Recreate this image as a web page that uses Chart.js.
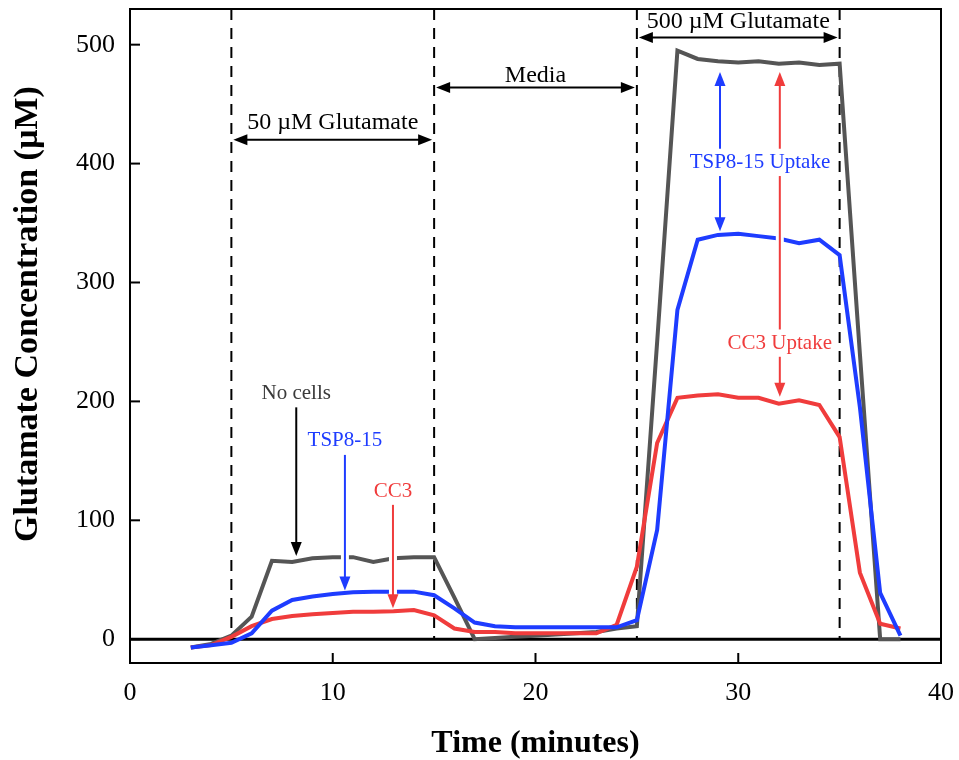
<!DOCTYPE html>
<html>
<head>
<meta charset="utf-8">
<script src="https://cdn.jsdelivr.net/npm/chart.js@4.4.1/dist/chart.umd.min.js"></script>
<style>
  html, body { margin: 0; padding: 0; background: #fff; }
  #wrap { width: 959px; height: 760px; }
</style>
</head>
<body>
<div id="wrap"><canvas id="chartGlu" width="959" height="760"></canvas></div>
<script>
// data (minutes, uM)
const times = [3, 4, 5, 6, 7, 8, 9, 10, 11, 12, 13, 14, 15, 16, 17, 18, 19, 20,
  21, 22, 23, 24, 25, 26, 27, 28, 29, 30, 31, 32, 33, 34, 35, 36, 37, 38];
const noCells = [-7, -4, 3, 19, 66, 65, 68, 69, 69, 65, 68, 69, 69, 35, 0, 1, 2, 3,
  4, 5, 6, 9, 11, 250, 495, 488, 486, 485, 486, 484, 485, 483, 484, 240, 0, 0];
const tsp815 = [-7, -5, -3, 5, 24, 33, 36, 38, 39.5, 40, 40, 40, 37, 26, 14, 11, 10, 10,
  10, 10, 10, 10, 16, 92, 277, 336, 340, 341, 339, 337, 333, 336, 323, 195, 39, 3];
const cc3 = [-7, -5, 2, 11, 17, 19.5, 21, 22, 23, 23, 23.5, 24.5, 20, 9, 6, 6, 5, 5,
  5, 5, 5, 12, 61, 165, 203, 205, 206, 203, 203, 198, 201, 197, 170, 56, 13, 9];

const xTicks = [0, 10, 20, 30, 40];
const yTicks = [0, 100, 200, 300, 400, 500];
const phaseEdges = [5, 15, 25, 35];

const GREY = "#555555";
const BLUE = "#1e3cff";
const RED = "#f03c3c";
const SERIF = '"Liberation Serif", "Times New Roman", serif';

// annotation layout (data units)
const phases = [
  { text: "50 \u00b5M Glutamate", x0: 5, x1: 15, textY: 434, arrowY: 420 },
  { text: "Media", x0: 15, x1: 25, textY: 474, arrowY: 464 },
  { text: "500 \u00b5M Glutamate", x0: 25, x1: 35, textY: 519, arrowY: 506 }
];
const callouts = [
  { text: "No cells", color: "#3a3a3a", arrow: "#000", x: 8.2, textY: 207, from: 195, to: 70 },
  { text: "TSP8-15", color: BLUE, arrow: BLUE, x: 10.6, textY: 167.5, from: 155, to: 41 },
  { text: "CC3", color: RED, arrow: RED, x: 12.97, textY: 124, from: 113, to: 26 }
];
const uptakes = [
  { text: "TSP8-15 Uptake", color: BLUE, x: 29.1, top: 477, bottom: 343, textX: 31.07, textY: 401 },
  { text: "CC3 Uptake", color: RED, x: 32.05, top: 477, bottom: 204, textX: 32.05, textY: 249 }
];

function toPoints(vals) {
  return times.map((t, i) => ({ x: t, y: vals[i] }));
}

function head(ctx, fx, fy, tx, ty, len, half) {
  const a = Math.atan2(ty - fy, tx - fx);
  const c = Math.cos(a), s = Math.sin(a);
  ctx.beginPath();
  ctx.moveTo(tx, ty);
  ctx.lineTo(tx - len * c + half * s, ty - len * s - half * c);
  ctx.lineTo(tx - len * c - half * s, ty - len * s + half * c);
  ctx.closePath();
  ctx.fill();
}

function line(ctx, x1, y1, x2, y2, color, width) {
  ctx.strokeStyle = color;
  ctx.lineWidth = width;
  ctx.beginPath();
  ctx.moveTo(x1, y1);
  ctx.lineTo(x2, y2);
  ctx.stroke();
}

// arrow from (x1,y1) to (x2,y2); both = head at both ends
function arrow(ctx, x1, y1, x2, y2, color, both, halo) {
  const len = 14, half = 5.5;
  const d = Math.hypot(x2 - x1, y2 - y1);
  const ux = (x2 - x1) / d, uy = (y2 - y1) / d;
  const sx = both ? x1 + ux * (len - 2) : x1;
  const sy = both ? y1 + uy * (len - 2) : y1;
  const ex = x2 - ux * (len - 2), ey = y2 - uy * (len - 2);
  if (halo) line(ctx, sx, sy, ex, ey, "#fff", 8);
  line(ctx, sx, sy, ex, ey, color, 2);
  ctx.fillStyle = color;
  head(ctx, x1, y1, x2, y2, len, half);
  if (both) head(ctx, x2, y2, x1, y1, len, half);
}

function label(ctx, text, x, y, color, size, boxed) {
  ctx.font = size + "px " + SERIF;
  ctx.textAlign = "center";
  ctx.textBaseline = "middle";
  if (boxed) {
    const w = ctx.measureText(text).width;
    ctx.fillStyle = "#fff";
    ctx.fillRect(x - w / 2 - 3, y - size * 0.65, w + 6, size * 1.3);
  }
  ctx.fillStyle = color;
  ctx.fillText(text, x, y);
}

const figureDecor = {
  id: "figureDecor",
  beforeDatasetsDraw(chart) {
    const { ctx, chartArea: a, scales: { x, y } } = chart;
    ctx.save();
    // zero line
    line(ctx, a.left, y.getPixelForValue(0), a.right, y.getPixelForValue(0), "#000", 3);
    // phase boundaries
    ctx.setLineDash([11, 8]);
    phaseEdges.forEach(t => {
      const px = x.getPixelForValue(t);
      line(ctx, px, a.top, px, y.getPixelForValue(0), "#000", 2);
    });
    ctx.restore();
  },
  afterDatasetsDraw(chart) {
    const { ctx, chartArea: a, scales: { x, y } } = chart;
    ctx.save();

    // frame + inward ticks
    ctx.strokeStyle = "#000";
    ctx.lineWidth = 2;
    ctx.strokeRect(a.left, a.top, a.right - a.left, a.bottom - a.top);
    yTicks.forEach(v => {
      const py = y.getPixelForValue(v);
      line(ctx, a.left, py, a.left + 10, py, "#000", 2);
    });
    xTicks.forEach(v => {
      const px = x.getPixelForValue(v);
      line(ctx, px, a.bottom, px, a.bottom - 10, "#000", 2);
    });

    // phase labels
    phases.forEach(p => {
      const y0 = y.getPixelForValue(p.arrowY);
      arrow(ctx, x.getPixelForValue(p.x0) + 2, y0, x.getPixelForValue(p.x1) - 2, y0, "#000", true, false);
      label(ctx, p.text, (x.getPixelForValue(p.x0) + x.getPixelForValue(p.x1)) / 2,
        y.getPixelForValue(p.textY), "#000", 24, false);
    });

    // series callouts
    callouts.forEach(c => {
      const px = x.getPixelForValue(c.x);
      arrow(ctx, px, y.getPixelForValue(c.from), px, y.getPixelForValue(c.to), c.arrow, false, true);
      label(ctx, c.text, px, y.getPixelForValue(c.textY), c.color, 21, false);
    });

    // uptake arrows
    uptakes.forEach(u => {
      const px = x.getPixelForValue(u.x);
      arrow(ctx, px, y.getPixelForValue(u.top), px, y.getPixelForValue(u.bottom), u.color, true, true);
    });
    uptakes.forEach(u => {
      label(ctx, u.text, x.getPixelForValue(u.textX), y.getPixelForValue(u.textY), u.color, 21, true);
    });

    // y axis title
    ctx.translate(28, 314);
    ctx.rotate(-Math.PI / 2);
    ctx.font = "bold 34px " + SERIF;
    ctx.textAlign = "center";
    ctx.textBaseline = "middle";
    ctx.fillStyle = "#000";
    ctx.fillText("Glutamate Concentration (\u00b5M)", 0, 0);
    ctx.restore();
  }
};

const ctx = document.getElementById("chartGlu").getContext("2d");
new Chart(ctx, {
  type: "line",
  data: {
    datasets: [
      { label: "TSP8-15", data: toPoints(tsp815), borderColor: BLUE },
      { label: "CC3", data: toPoints(cc3), borderColor: RED },
      { label: "No cells", data: toPoints(noCells), borderColor: GREY }
    ].map(d => Object.assign(d, { borderWidth: 4, pointRadius: 0, tension: 0, fill: false }))
  },
  options: {
    responsive: false,
    animation: false,
    devicePixelRatio: 1,
    layout: { padding: { top: 9, right: 18, left: 0, bottom: 0 } },
    plugins: { legend: { display: false }, tooltip: { enabled: false } },
    scales: {
      x: {
        type: "linear",
        min: 0,
        max: 40,
        afterFit: s => { s.height = 97; s.paddingLeft = 0; s.paddingRight = 0; },
        afterBuildTicks: s => { s.ticks = xTicks.map(v => ({ value: v })); },
        grid: { display: false },
        border: { display: false },
        ticks: { color: "#000", padding: 7, maxRotation: 0, font: { family: SERIF, size: 26 } },
        title: {
          display: true,
          text: "Time (minutes)",
          color: "#000",
          padding: { top: 0, bottom: -3 },
          font: { family: SERIF, size: 32, weight: "bold" }
        }
      },
      y: {
        min: -20,
        max: 530,
        afterFit: s => { s.width = 130; s.paddingTop = 0; s.paddingBottom = 0; },
        afterBuildTicks: s => { s.ticks = yTicks.map(v => ({ value: v })); },
        grid: { display: false },
        border: { display: false },
        ticks: { color: "#000", padding: 7, font: { family: SERIF, size: 26 } }
      }
    }
  },
  plugins: [figureDecor]
});
</script>
</body>
</html>
